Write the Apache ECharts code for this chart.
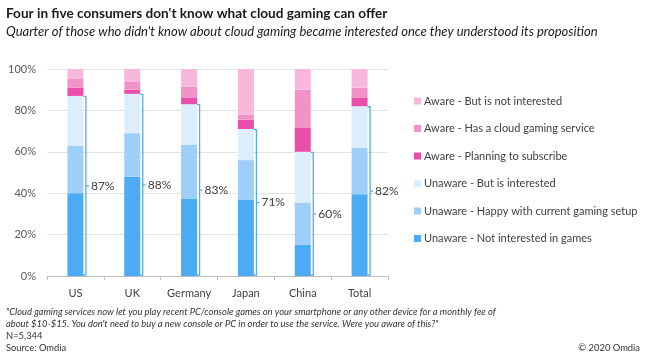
<!DOCTYPE html>
<html><head><meta charset="utf-8">
<script src="https://cdn.jsdelivr.net/npm/echarts@6/dist/echarts.min.js"></script>
<style>html,body{margin:0;padding:0;background:#fff}#c{width:646px;height:357px}</style>
</head><body><div id="c"></div>
<script>
const categories = ['US', 'UK', 'Germany', 'Japan', 'China', 'Total'];
const unawareNotInterested = [40, 48, 37.5, 37, 15, 39.5];
const unawareHappy = [23, 21, 26, 19, 20.5, 22.5];
const unawareInterested = [24, 19, 19.5, 15, 24.5, 20];
const awarePlanning = [4, 2, 3, 4.5, 11.5, 4];
const awareHasService = [4.5, 4, 5.5, 2.5, 18.5, 5];
const awareNotInterested = [4.5, 6, 8.5, 22, 10, 9];
const unawareTotalLabels = ['87%', '88%', '83%', '71%', '60%', '82%'];
const yTicks = [0, 20, 40, 60, 80, 100];

const seriesNames = [
  'Unaware - Not interested in games',
  'Unaware - Happy with current gaming setup',
  'Unaware - But is interested',
  'Aware - Planning to subscribe',
  'Aware - Has a cloud gaming service',
  'Aware - But is not interested'
];
const seriesData = [unawareNotInterested, unawareHappy, unawareInterested, awarePlanning, awareHasService, awareNotInterested];
const colors = ['#4dabf6', '#9dcff8', '#dcedfb', '#e94eaa', '#f293c8', '#f7b8dc'];

const FONT = 'Lato';
const BAR_W = 16;
const chart = echarts.init(document.getElementById('c'));

const bars = seriesNames.map((n, i) => ({
  name: n, type: 'bar', stack: 'all', barWidth: BAR_W,
  itemStyle: { color: colors[i] },
  data: seriesData[i], z: 2
}));

const bracketData = categories.map((c, i) => [i, unawareNotInterested[i] + unawareHappy[i] + unawareInterested[i], unawareTotalLabels[i]]);

const bracket = {
  type: 'custom', name: 'bracket', z: 5,
  data: bracketData,
  renderItem: function (params, api) {
    const cat = api.value(0), tot = api.value(1);
    const top = api.coord([cat, tot]);
    const bot = api.coord([cat, 0]);
    const cx = top[0];
    const lx = cx + BAR_W / 2 + 2.5;
    const ex = cx + BAR_W / 2;
    const midY = (top[1] + bot[1]) / 2;
    const st = { stroke: '#5aaae8', lineWidth: 1.3, fill: null };
    return {
      type: 'group',
      children: [
        { type: 'polyline', shape: { points: [[ex, top[1] + 0.5], [lx, top[1] + 0.5], [lx, bot[1] - 1], [ex, bot[1] - 1]] }, style: st },
        { type: 'line', shape: { x1: lx, y1: midY, x2: lx + 3, y2: midY }, style: st },
        { type: 'text', x: lx + 5, y: midY, style: { text: bracketData[params.dataIndex][2], font: '12px ' + FONT, fill: '#404040', textAlign: 'left', textVerticalAlign: 'middle' } }
      ]
    };
  }
};

chart.setOption({
  animation: false,
  grid: { left: 47, right: 258, top: 69, bottom: 81, containLabel: false },
  legend: {
    orient: 'vertical', left: 409, top: 89,
    data: seriesNames.slice().reverse(),
    itemWidth: 7, itemHeight: 7, itemGap: 13.5,
    icon: 'rect',
    textStyle: { fontFamily: FONT, fontSize: 11, color: '#404040', lineHeight: 14, padding: [0, 0, 0, -2] },
    selectedMode: false
  },
  xAxis: {
    type: 'category', data: categories,
    axisLine: { lineStyle: { color: '#bfbfbf' } },
    axisTick: { show: true, length: 4, lineStyle: { color: '#bfbfbf' } },
    axisLabel: { interval: 0, fontFamily: FONT, fontSize: 11, color: '#404040', margin: 12 }
  },
  yAxis: {
    type: 'value', min: 0, max: 100, interval: 20,
    axisLine: { show: false }, axisTick: { show: false },
    splitLine: { lineStyle: { color: '#e3e3e3' } },
    axisLabel: { fontFamily: FONT, fontSize: 11, color: '#595959', margin: 11, formatter: v => yTicks.includes(v) ? v + '%' : '' }
  },
  series: bars.concat([bracket]),
  graphic: [
    { type: 'text', left: 6, top: 7, style: { text: "Four in five consumers don't know what cloud gaming can offer", font: 'bold 13.6px ' + FONT, fill: '#1a1a1a' } },
    { type: 'text', left: 6, top: 25, style: { text: "Quarter of those who didn't know about cloud gaming became interested once they understood its proposition", font: 'italic 13px ' + FONT, fill: '#1a1a1a' } },
    { type: 'text', left: 6, top: 307, style: { text: '"Cloud gaming services now let you play recent PC/console games on your smartphone or any other device for a monthly fee of', font: 'italic 9.4px ' + FONT, fill: '#333' } },
    { type: 'text', left: 6, top: 319, style: { text: "about $10-$15. You don't need to buy a new console or PC in order to use the service. Were you aware of this?\"", font: 'italic 9.4px ' + FONT, fill: '#333' } },
    { type: 'text', left: 6, top: 331, style: { text: 'N=5,344', font: '9.4px ' + FONT, fill: '#333' } },
    { type: 'text', left: 6, top: 343, style: { text: 'Source: Omdia', font: '9.4px ' + FONT, fill: '#333' } },
    { type: 'text', right: 6, top: 343, style: { text: '© 2020 Omdia', font: '9.4px ' + FONT, fill: '#333' } }
  ]
});
</script></body></html>
